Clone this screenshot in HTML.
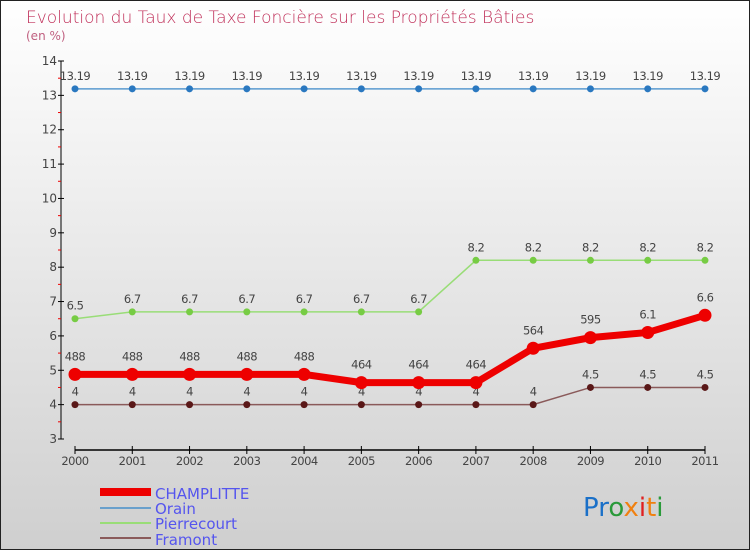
<!DOCTYPE html>
<html><head><meta charset="utf-8"><style>
html,body{margin:0;padding:0}
body{width:750px;height:550px;overflow:hidden;font-family:"DejaVu Sans","Liberation Sans",sans-serif}
</style></head><body>
<svg id="c" width="750" height="550" xmlns="http://www.w3.org/2000/svg">
<defs><linearGradient id="bg" x1="0" y1="0" x2="0" y2="1"><stop offset="0" stop-color="#ffffff"/><stop offset="1" stop-color="#cfcfcf"/></linearGradient></defs>
<rect x="0.5" y="0.5" width="749" height="549" fill="url(#bg)" stroke="#222"/>
<text x="26" y="23" font-size="17" fill="#c0305a" font-family="DejaVu Sans,sans-serif" font-weight="200">Evolution du Taux de Taxe Foncière sur les Propriétés Bâties</text>
<text x="26" y="40" font-size="12" fill="#c06080">(en %)</text>
<g id="plot"></g>
<g>
<rect x="100" y="488" width="51" height="8" fill="#e00"/>
<text x="155" y="499" font-size="15" fill="#5555ee">CHAMPLITTE</text>
<rect x="100" y="507" width="51" height="2" fill="#6aa0cc"/>
<text x="155" y="514" font-size="15" fill="#5555ee">Orain</text>
<rect x="100" y="522" width="51" height="2" fill="#99dd77"/>
<text x="155" y="529" font-size="15" fill="#5555ee">Pierrecourt</text>
<rect x="100" y="537" width="51" height="2" fill="#8a5a5a"/>
<text x="155" y="545" font-size="15" fill="#5555ee">Framont</text>
</g>
<text x="583" y="516" font-size="26" font-family="DejaVu Sans,sans-serif"><tspan fill="#1a70c8">Pr</tspan><tspan fill="#2a9a3a">o</tspan><tspan fill="#f08010">x</tspan><tspan fill="#e02020">i</tspan><tspan fill="#f08010">t</tspan><tspan fill="#2a9a3a">i</tspan></text>
</svg>
<script>
const years=["2000","2001","2002","2003","2004","2005","2006","2007","2008","2009","2010","2011"];
const champlitte=[4.88,4.88,4.88,4.88,4.88,4.64,4.64,4.64,5.64,5.95,6.1,6.6];
const champlitteLabels=["488","488","488","488","488","464","464","464","564","595","6.1","6.6"];
const orain=[13.19,13.19,13.19,13.19,13.19,13.19,13.19,13.19,13.19,13.19,13.19,13.19];
const pierrecourt=[6.5,6.7,6.7,6.7,6.7,6.7,6.7,8.2,8.2,8.2,8.2,8.2];
const framont=[4,4,4,4,4,4,4,4,4,4.5,4.5,4.5];
const yTicks=[3,4,5,6,7,8,9,10,11,12,13,14];
const NS="http://www.w3.org/2000/svg";
const g=document.getElementById('plot');
const x=i=>75+i*(630/11);
const y=v=>439-(v-3)*(378/11);
function el(t,a){const e=document.createElementNS(NS,t);for(const k in a)e.setAttribute(k,a[k]);g.appendChild(e);return e;}
let e=el('line',{x1:61,y1:61,x2:61,y2:439,stroke:'#000'});


e=el('line',{x1:75,y1:450,x2:705,y2:450,stroke:'#000',"stroke-width":1.5});


yTicks.forEach((t,i)=>{
 let l=el('line',{x1:58,x2:64,y1:y(t),y2:y(t),stroke:'#000'});
 
 
 if(i<yTicks.length-1){let m=el('line',{x1:58,x2:61,y1:y(t+0.5),y2:y(t+0.5),stroke:'#e00'});
 
 }
 let tx=el('text',{x:57,y:y(t)+4,"text-anchor":"end","font-size":12,fill:'#444'});tx.textContent=t;
 
 
});
years.forEach((yr,i)=>{
 let l=el('line',{x1:x(i),x2:x(i),y1:446,y2:454,stroke:'#000'});
 
 
 let tx=el('text',{x:x(i),y:465,"text-anchor":"middle","font-size":11.5,fill:'#444',"letter-spacing":"-0.5"});tx.textContent=yr;
 
 
});
function series(name,vals,labels,color,dot,w,r,dotR){
 const pts=vals.map((v,i)=>x(i)+','+y(v)).join(' ');
 let p=el('polyline',{points:pts,fill:'none',stroke:color,"stroke-width":w});
 
 
 vals.forEach((v,i)=>{
  let c=el('circle',{cx:x(i),cy:y(v),r:dotR,fill:dot});
  
  
  let t=el('text',{x:x(i),y:y(v)-r,"text-anchor":"middle","font-size":11.5,fill:'#444',"letter-spacing":"-0.5"});
  t.textContent=labels?labels[i]:String(v);
  
  
 });
}
series('orain',orain,null,'#5a9ad0','#2a78c0',1.5,9,3.5);
series('pierrecourt',pierrecourt,null,'#99dd77','#77cc44',1.5,9,3.5);
series('framont',framont,null,'#8a5a5a','#5a1818',1.5,9,3.5);
series('champlitte',champlitte,champlitteLabels,'#ee0000','#ee0000',7,14,6.5);
</script>
</body></html>
